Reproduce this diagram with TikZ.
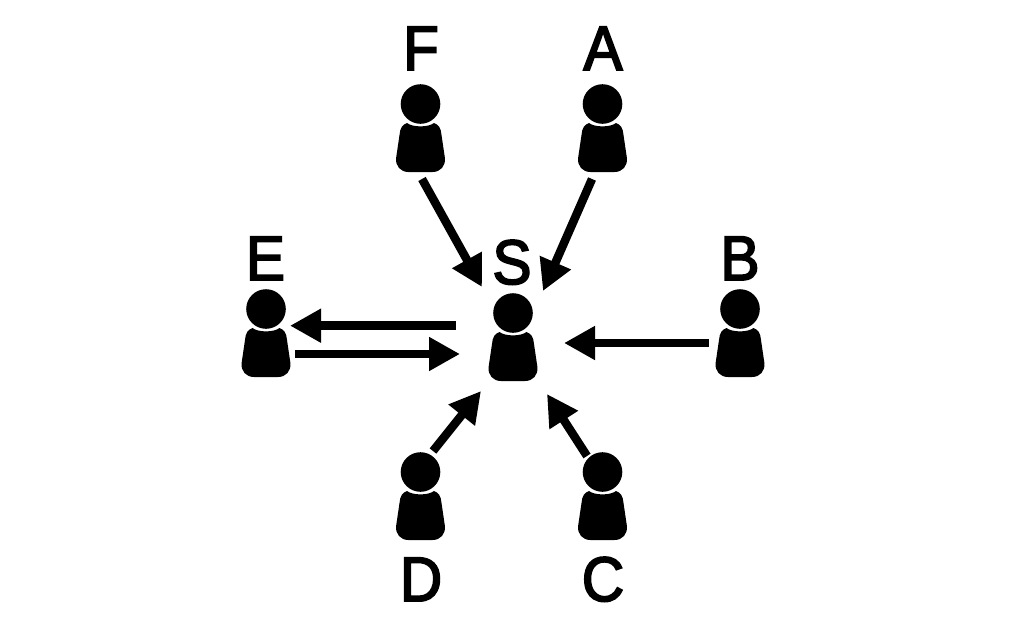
\documentclass[tikz,border=0pt]{standalone}
\usepackage{fontspec}
\setmainfont{Liberation Sans}
\newfontface\labelface{Liberation Sans}[RawFeature={embolden=2.8;extend=0.93}]
\usetikzlibrary{arrows.meta}
\tikzset{
  x=1pt,y=-1pt,
  link/.style={line width=8.5pt,-{Triangle[length=31pt,width=32pt]}},
  personbox/.style={rectangle,minimum width=50pt,minimum height=88pt,inner sep=0pt},
  letter/.style={anchor=base,inner sep=0pt,font=\fontsize{63}{63}\labelface},
  person/.pic={
    \fill[black] (0,-24) circle[radius=19.8];
    \fill[black] (-13.5,-5) .. controls (-8,-0.5) and (8,-0.5) .. (13.5,-5)
      .. controls (18,-3.5) and (20.5,0) .. (21,7)
      -- (24.4,30) .. controls (25.2,38) and (20,44) .. (12,44)
      -- (-12,44) .. controls (-20,44) and (-25.2,38) .. (-24.4,30)
      -- (-21,7) .. controls (-20.5,0) and (-18,-3.5) .. (-13.5,-5) -- cycle;
  }
}
\begin{document}
\begin{tikzpicture}
\useasboundingbox (0,0) rectangle (1024,627);
\foreach \n/\x/\y in {F/420.5/128,A/602.5/128,E/266/333,S/513/337,B/740/333,D/420.5/496,C/602.5/496}{
  \node[personbox] (\n) at (\x,\y) {};
  \pic at (\x,\y) {person};
}
\node[letter] (lF) at (421,70) {F};
\node[letter] (lA) at (603,70) {A};
\node[letter] (lE) at (265.5,280) {E};
\node[letter] (lS) at (512,284) {S};
\node[letter] (lB) at (740,280) {B};
\node[letter] (lD) at (421,601) {D};
\node[letter] (lC) at (603,601) {C};
\draw[link] ([shift={(1.5,51)}]F.center) -- ([shift={(-31,-50)}]S.center);
\draw[link] ([shift={(-10.5,51)}]A.center) -- ([shift={(30,-46)}]S.center);
\draw[link] ([shift={(-31,10)}]B.center) -- ([shift={(51,6)}]S.center);
\draw[link] ([shift={(-15.5,-40)}]C.center) -- ([shift={(34,57)}]S.center);
\draw[link] ([shift={(12.5,-45)}]D.center) -- ([shift={(-32,54)}]S.center);
\draw[link] ([shift={(-57,-11.3)}]S.center) -- ([shift={(24,-7.3)}]E.center);
\draw[link] ([shift={(29,21)}]E.center) -- ([shift={(-53,17)}]S.center);
\end{tikzpicture}
\end{document}
